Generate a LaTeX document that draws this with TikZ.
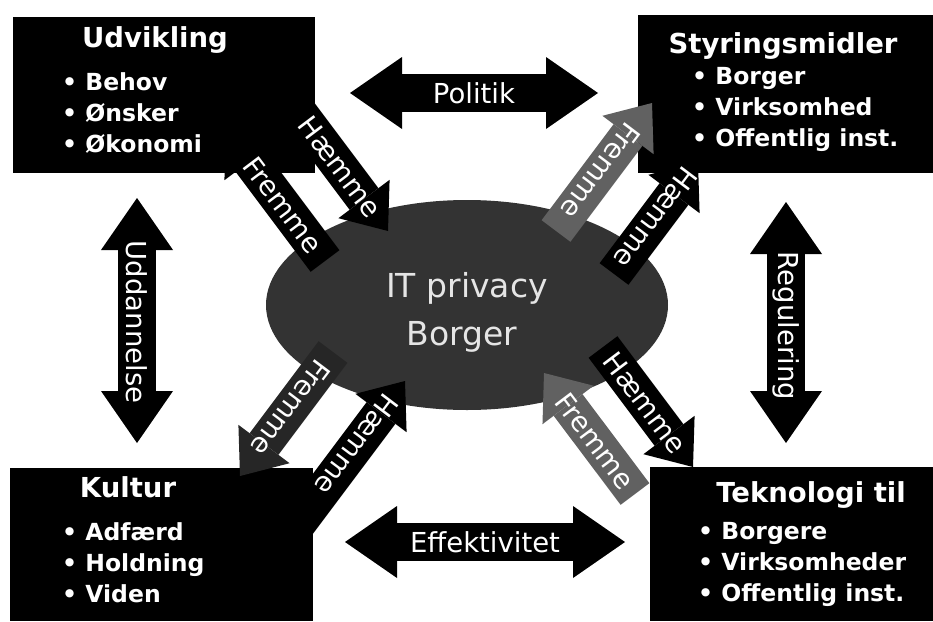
\documentclass[tikz,border=0pt]{standalone}
\usepackage{fontspec}
\setmainfont{DejaVu Sans}
\usetikzlibrary{arrows.meta,shapes.geometric}

\begin{document}
\begin{tikzpicture}[x=1pt,y=-1pt,
  box/.style={fill=black,inner sep=0pt,outer sep=0pt},
  boxtitle/.style={text=white,anchor=base,inner sep=0pt,font=\fontsize{27.5}{30}\selectfont\bfseries},
  boxitems/.style={text=white,anchor=north west,align=left,inner sep=0pt,font=\fontsize{23.5}{31}\selectfont\bfseries},
  twoway/.style={line width=38pt,{Triangle[width=72pt,length=52pt,line width=0pt]}-{Triangle[width=72pt,length=52pt,line width=0pt]}},
  oneway/.style={line width=36pt,-{Triangle[width=64pt,length=40pt,line width=0pt]}},
  arrowtext/.style={text=white,inner sep=0pt,font=\fontsize{27.5}{30}\selectfont}]
\useasboundingbox (0,0) rectangle (933,621);

% centre
\node[ellipse,fill=black!80,inner sep=0pt,minimum width=402pt,minimum height=210pt] (hub) at (467,305) {};
\node[text=black!10,font=\fontsize{33}{34}\selectfont] (hubA) at (467,288) {IT privacy};
\node[text=black!10,font=\fontsize{33}{34}\selectfont] (hubB) at (462,337) {Borger};

% arrows between the boxes
\coordinate (polL) at (350,93);  \coordinate (polR) at (598,93);
\coordinate (effL) at (345,542); \coordinate (effR) at (625,542);
\coordinate (uddT) at (137,198); \coordinate (uddB) at (137,443);
\coordinate (regT) at (786,202); \coordinate (regB) at (786,443);
\draw[twoway] (polL) -- (polR);
\draw[twoway] (effL) -- (effR);
\draw[twoway] (uddT) -- (uddB);
\draw[twoway] (regT) -- (regB);
\node[arrowtext] (polT) at (474,93) {Politik};
\node[arrowtext] (effT) at (485,542) {Effektivitet};
\node[arrowtext,rotate=-90] (uddX) at (137,322) {Uddannelse};
\node[arrowtext,rotate=-90] (regX) at (786,326) {Regulering};

% this one runs under the box
\coordinate (brF1) at (635,494); \coordinate (brF2) at (544,373);
\draw[oneway,black!62] (brF1) -- (brF2);

% boxes
\node[box,minimum width=302pt,minimum height=156pt] (udv) at (164,95) {};
\node[box,minimum width=295pt,minimum height=158pt] (sty) at (785.5,94) {};
\node[box,minimum width=303pt,minimum height=153pt] (kul) at (161.5,544.5) {};
\node[box,minimum width=283pt,minimum height=154pt] (tek) at (791.5,544) {};

% hæmme / fremme
\coordinate (tlH1) at (274,79);  \coordinate (tlH2) at (388,231);
\coordinate (tlF1) at (325,261); \coordinate (tlF2) at (226,129);
\coordinate (trF1) at (556,231); \coordinate (trF2) at (652,103);
\coordinate (trH1) at (614,274); \coordinate (trH2) at (698,162);
\coordinate (blF1) at (333,352); \coordinate (blF2) at (240,476);
\coordinate (blH1) at (297,525); \coordinate (blH2) at (405,381);
\coordinate (brH1) at (603,347); \coordinate (brH2) at (693,467);
\draw[oneway] (tlH1) -- (tlH2);
\draw[oneway] (tlF1) -- (tlF2);
\draw[oneway,black!62] (trF1) -- (trF2);
\draw[oneway] (trH1) -- (trH2);
\draw[oneway,black!85] (blF1) -- (blF2);
\draw[oneway] (blH1) -- (blH2);
\draw[oneway] (brH1) -- (brH2);
\node[arrowtext,rotate=-53] (tlHt) at (340,167) {Hæmme};
\node[arrowtext,rotate=-53] (tlFt) at (283,205) {Fremme};
\node[arrowtext,rotate=-127] (trFt) at (601,171) {Fremme};
\node[arrowtext,rotate=-127] (trHt) at (656,218) {Hæmme};
\node[arrowtext,rotate=-127] (blFt) at (291,408) {Fremme};
\node[arrowtext,rotate=-127] (blHt) at (357,445) {Hæmme};
\node[arrowtext,rotate=-53] (brHt) at (645,403) {Hæmme};
\node[arrowtext,rotate=-53] (brFt) at (595,441) {Fremme};

% box texts
\node[boxtitle] (udvT) at (155,47) {Udvikling};
\node[boxitems] (udvL) at (62,72) {• Behov\\• Ønsker\\• Økonomi};
\node[boxtitle] (styT) at (783,53) {Styringsmidler};
\node[boxitems] (styL) at (692,67) {• Borger\\• Virksomhed\\• Offentlig inst.};
\node[boxtitle] (kulT) at (128,497) {Kultur};
\node[boxitems] (kulL) at (62,522) {• Adfærd\\• Holdning\\• Viden};
\node[boxtitle] (tekT) at (811,502) {Teknologi til};
\node[boxitems] (tekL) at (698,522) {• Borgere\\• Virksomheder\\• Offentlig inst.};
\end{tikzpicture}
\end{document}
